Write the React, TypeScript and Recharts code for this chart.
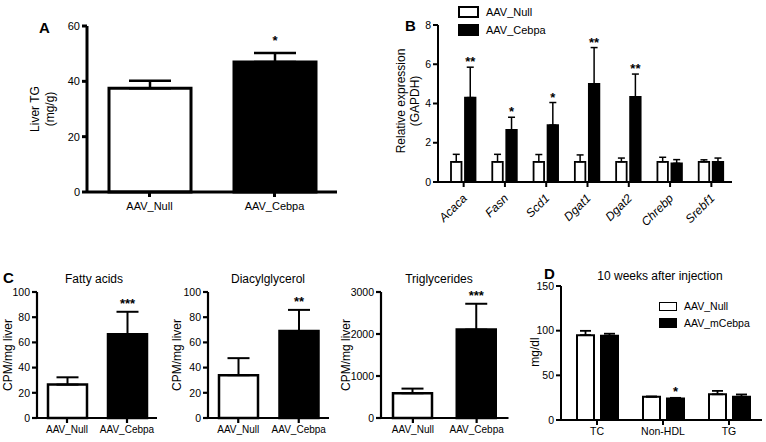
import React from 'react'
import { BarChart, Bar, XAxis, YAxis, ErrorBar, Cell, LabelList, Legend } from 'recharts'

// Panel A - liver TG
const aGroups = ['AAV_Null', 'AAV_Cebpa']
const aMean = [37.5, 47]
const aTop = [40.2, 50.2]
const aStars = ['', '*']

// Panel B - gene expression
const genes = ['Acaca', 'Fasn', 'Scd1', 'Dgat1', 'Dgat2', 'Chrebp', 'Srebf1']
const bNull = [1.03, 1.03, 1.03, 1.03, 1.03, 1.03, 1.03]
const bNullTop = [1.41, 1.41, 1.4, 1.38, 1.22, 1.26, 1.13]
const bCebpa = [4.3, 2.65, 2.9, 5.0, 4.33, 0.95, 1.02]
const bCebpaTop = [5.85, 3.3, 4.05, 6.85, 5.5, 1.14, 1.22]
const bStars = ['**', '*', '*', '**', '**', '', '']

// Panel C - label incorporation
const cGroups = ['AAV_Null', 'AAV_Cebpa']
const faMean = [26.5, 66.5]
const faTop = [32.3, 84.3]
const dagMean = [34, 69]
const dagTop = [47.5, 85.8]
const tgMean = [590, 2105]
const tgTop = [700, 2720]

// Panel D - plasma lipids
const dGroups = ['TC', 'Non-HDL', 'TG']
const dNull = [95, 26, 28.8]
const dNullTop = [99.8, 26.3, 32.6]
const dCebpa = [94.2, 24.2, 26]
const dCebpaTop = [96.6, 24.8, 28.6]
const dStars = ['', '*', '']

const font = '"Liberation Sans", Arial, Helvetica, sans-serif'

const aData = aGroups.map((name, i) => ({ name, mean: aMean[i], err: [0, aTop[i] - aMean[i]], star: aStars[i] }))
const bData = genes.map((name, i) => ({
  name,
  nul: bNull[i],
  nulErr: [0, bNullTop[i] - bNull[i]],
  ceb: bCebpa[i],
  cebErr: [0, bCebpaTop[i] - bCebpa[i]],
  star: bStars[i],
}))
const cRows = (mean: number[], top: number[], star: string) =>
  cGroups.map((name, i) => ({ name, mean: mean[i], err: [0, top[i] - mean[i]], star: i === 1 ? star : '' }))
const dData = dGroups.map((name, i) => ({
  name,
  nul: dNull[i],
  nulErr: [0, dNullTop[i] - dNull[i]],
  ceb: dCebpa[i],
  cebErr: [0, dCebpaTop[i] - dCebpa[i]],
  star: dStars[i],
}))

// asterisks sit above the top of the error bar
const starLabel = (means: number[], tops: number[], gap: number) => (props: any) => {
  const vb = props.viewBox ?? props
  const { x, y, width, height } = vb
  const i = props.index
  if (!props.value) return null
  const px = height / means[i]
  const yTop = y - (tops[i] - means[i]) * px
  return (
    <text x={x + width / 2} y={yTop - gap} textAnchor="middle" fontSize={13} fontWeight="bold" fill="#000">
      {props.value}
    </text>
  )
}

const axis = (w: number, fs = 10.5) => ({
  axisLine: { stroke: '#000', strokeWidth: w },
  tickLine: { stroke: '#000', strokeWidth: w },
  tick: { fill: '#000', fontSize: fs },
  tickSize: 5,
})

const GeneTick = (props: any) => {
  const { x, y, payload } = props
  const tx = x + 4
  const ty = y + 10
  return (
    <text x={tx} y={ty} transform={`rotate(-45 ${tx} ${ty})`} textAnchor="end" fontSize={12} fontStyle="italic" fill="#000">
      {payload.value}
    </text>
  )
}

const boxLegend = (w: number, h: number, row: number, fs: number, bw: number, order: string[]) => (props: any) => {
  const items = [...(props.payload || [])].sort((a: any, b: any) => order.indexOf(a.value) - order.indexOf(b.value))
  return (
    <div style={{ fontFamily: font }}>
      {items.map((p: any) => (
        <div key={p.value} style={{ display: 'flex', alignItems: 'center', height: row }}>
          <span
            style={{
              display: 'inline-block',
              width: w,
              height: h,
              background: p.color,
              border: `${bw}px solid #000`,
              boxSizing: 'border-box',
              marginRight: 7,
            }}
          />
          <span style={{ fontSize: fs, color: '#000' }}>{p.value}</span>
        </div>
      ))}
    </div>
  )
}

const CPanel = ({ data, left, width, yw, right, domain, ticks, means, tops }: any) => (
  <div style={{ position: 'absolute', left, top: 270 }}>
    <BarChart width={width} height={172} data={data} margin={{ top: 22, right, bottom: 4, left: 0 }}>
      <XAxis dataKey="name" height={20} {...axis(2.2, 10)} tickMargin={3} />
      <YAxis width={yw} domain={domain} ticks={ticks} {...axis(2.2)} />
      <Bar dataKey="mean" barSize={39} stroke="#000" strokeWidth={2.5} isAnimationActive={false}>
        <Cell fill="#fff" />
        <Cell fill="#000" />
        <ErrorBar dataKey="err" width={11} stroke="#000" strokeWidth={2} direction="y" />
        <LabelList dataKey="star" content={starLabel(means, tops, 4)} />
      </Bar>
    </BarChart>
  </div>
)

export default function App() {
  return (
    <div style={{ position: 'absolute', left: 0, top: 0, width: 766, height: 442, background: '#fff', fontFamily: font }}>
      {/* A */}
      <div style={{ position: 'absolute', left: 0, top: 0 }}>
        <BarChart width={350} height={220} data={aData} margin={{ top: 26, right: 13, bottom: 6, left: 27 }}>
          <XAxis dataKey="name" height={22} {...axis(3, 11)} tickMargin={5} />
          <YAxis width={60} domain={[0, 60]} ticks={[0, 20, 40, 60]} {...axis(3, 11)} />
          <Bar dataKey="mean" barSize={82} stroke="#000" strokeWidth={3} isAnimationActive={false}>
            <Cell fill="#fff" />
            <Cell fill="#000" />
            <ErrorBar dataKey="err" width={21} stroke="#000" strokeWidth={2.5} direction="y" />
            <LabelList dataKey="star" content={starLabel(aMean, aTop, 8)} />
          </Bar>
        </BarChart>
      </div>

      {/* B */}
      <div style={{ position: 'absolute', left: 380, top: 0 }}>
        <BarChart width={386} height={242} data={bData} margin={{ top: 25, right: 34, bottom: 0, left: 0 }} barGap={3.5}>
          <XAxis dataKey="name" height={60} {...axis(2)} tick={<GeneTick />} padding={{ left: 5, right: 0 }} interval={0} />
          <YAxis width={58} domain={[0, 8]} ticks={[0, 2, 4, 6, 8]} {...axis(2)} />
          <Legend
            layout="vertical"
            align="center"
            verticalAlign="middle"
            wrapperStyle={{ left: 78, top: 3, width: 'auto' }}
            content={boxLegend(21, 12.5, 18, 11, 2, ['AAV_Null', 'AAV_Cebpa'])}
          />
          <Bar dataKey="nul" name="AAV_Null" fill="#fff" stroke="#000" strokeWidth={1.8} barSize={10.5} isAnimationActive={false}>
            <ErrorBar dataKey="nulErr" width={3.5} stroke="#000" strokeWidth={1.5} direction="y" />
          </Bar>
          <Bar dataKey="ceb" name="AAV_Cebpa" fill="#000" stroke="#000" strokeWidth={1.8} barSize={10.5} isAnimationActive={false}>
            <ErrorBar dataKey="cebErr" width={3.5} stroke="#000" strokeWidth={1.5} direction="y" />
            <LabelList dataKey="star" content={starLabel(bCebpa, bCebpaTop, 1)} />
          </Bar>
        </BarChart>
      </div>

      {/* C */}
      <CPanel data={cRows(faMean, faTop, '***')} left={0} width={165} yw={37} right={8} domain={[0, 100]} ticks={[0, 20, 40, 60, 80, 100]} means={faMean} tops={faTop} />
      <CPanel data={cRows(dagMean, dagTop, '**')} left={170} width={165} yw={38} right={6} domain={[0, 100]} ticks={[0, 20, 40, 60, 80, 100]} means={dagMean} tops={dagTop} />
      <CPanel data={cRows(tgMean, tgTop, '***')} left={338} width={176} yw={43} right={5.5} domain={[0, 3000]} ticks={[0, 1000, 2000, 3000]} means={tgMean} tops={tgTop} />

      {/* D */}
      <div style={{ position: 'absolute', left: 520, top: 270 }}>
        <BarChart width={246} height={172} data={dData} margin={{ top: 16, right: 4, bottom: 2, left: 0 }} barGap={7}>
          <XAxis dataKey="name" height={20} {...axis(2, 10.5)} tickMargin={3} padding={{ left: 3, right: 0 }} />
          <YAxis width={41} domain={[0, 150]} ticks={[0, 50, 100, 150]} {...axis(2)} />
          <Legend
            layout="vertical"
            align="center"
            verticalAlign="middle"
            wrapperStyle={{ left: 139, top: 28, width: 'auto' }}
            content={boxLegend(18, 9.5, 16.5, 10.5, 1.8, ['AAV_Null', 'AAV_mCebpa'])}
          />
          <Bar dataKey="nul" name="AAV_Null" fill="#fff" stroke="#000" strokeWidth={2} barSize={17} isAnimationActive={false}>
            <ErrorBar dataKey="nulErr" width={5.5} stroke="#000" strokeWidth={1.8} direction="y" />
          </Bar>
          <Bar dataKey="ceb" name="AAV_mCebpa" fill="#000" stroke="#000" strokeWidth={2} barSize={17} isAnimationActive={false}>
            <ErrorBar dataKey="cebErr" width={5.5} stroke="#000" strokeWidth={1.8} direction="y" />
            <LabelList dataKey="star" content={starLabel(dCebpa, dCebpaTop, 2)} />
          </Bar>
        </BarChart>
      </div>

      {/* panel letters, titles and axis titles */}
      <svg width={766} height={442} style={{ position: 'absolute', left: 0, top: 0, pointerEvents: 'none' }} fontFamily={font} fill="#000">
        <g fontSize={15} fontWeight="bold" dominantBaseline="central">
          <text x={39} y={27}>A</text>
          <text x={405} y={25}>B</text>
          <text x={3} y={277}>C</text>
          <text x={544} y={273}>D</text>
        </g>
        <g fontSize={12} textAnchor="middle" dominantBaseline="central">
          <text x={94} y={279}>Fatty acids</text>
          <text x={268} y={279}>Diacylglycerol</text>
          <text x={439} y={279}>Triglycerides</text>
          <text x={660} y={276}>10 weeks after injection</text>
        </g>
        <g fontSize={12} textAnchor="middle" dominantBaseline="central">
          <text transform="translate(35 109) rotate(-90)">Liver TG</text>
          <text transform="translate(50 109) rotate(-90)">(mg/g)</text>
          <text transform="translate(401 101) rotate(-90)">Relative expression</text>
          <text transform="translate(415 101) rotate(-90)">(GAPDH)</text>
          <text transform="translate(8 355) rotate(-90)">CPM/mg liver</text>
          <text transform="translate(177 355) rotate(-90)">CPM/mg liver</text>
          <text transform="translate(346 355) rotate(-90)">CPM/mg liver</text>
          <text transform="translate(535 352) rotate(-90)">mg/dl</text>
        </g>
      </svg>
    </div>
  )
}
